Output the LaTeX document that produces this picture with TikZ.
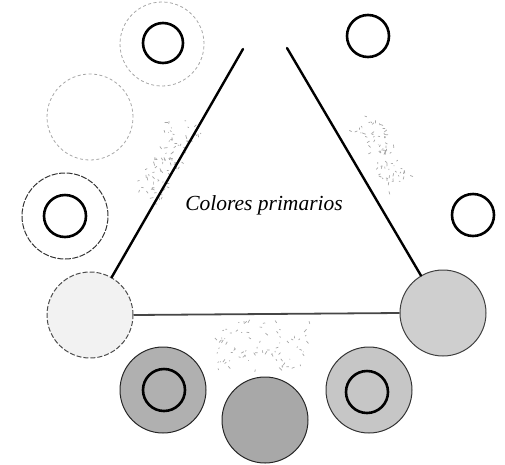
\documentclass[tikz,border=0pt]{standalone}
\usepackage{fontspec}
\setmainfont{Liberation Serif}

\begin{document}
\begin{tikzpicture}[
    x=1pt, y=-1pt,
    bigdisc/.style={circle, minimum size=86pt, inner sep=0pt},
    faintring/.style={draw=gray!70, line width=0.8pt, dash pattern=on 3pt off 2.5pt},
    boldring/.style={circle, draw=black, line width=2.6pt, minimum size=42pt, inner sep=0pt},
    side/.style={line width=2.4pt, line cap=round},
    base/.style={draw=gray!55!black, line width=1.8pt},
    speck/.style={gray!70, line width=0.7pt},
    mylabel/.style={font=\fontsize{21.5}{25}\selectfont\itshape}
]
    \useasboundingbox (0,0) rectangle (505,464);
    \pgfmathsetseed{7}

    % Mixing zones (loose specks)
    \begin{scope}[shift={(166,160)}, rotate=60]
        \foreach \k in {1,...,85}
            \draw[speck] ({44*rand},{17*rand}) -- ++({3*rand},{3*rand});
    \end{scope}
    \begin{scope}[shift={(381,152)}, rotate=-59]
        \foreach \k in {1,...,75}
            \draw[speck] ({38*rand},{15*rand}) -- ++({3*rand},{3*rand});
    \end{scope}
    \begin{scope}[shift={(262,346)}]
        \foreach \k in {1,...,80}
            \draw[speck] ({48*rand},{26*rand}) -- ++({3*rand},{3*rand});
    \end{scope}

    % Outer wheel
    \node[bigdisc, faintring, minimum size=84pt] (ylwout) at (162,44) {};
    \node[boldring, minimum size=40pt] (ylw) at (163,43) {};
    \node[bigdisc, faintring] (ylwgrn) at (90,117) {};
    \node[bigdisc, draw=black!80, line width=1pt, dash pattern=on 6pt off 1.5pt] (grnout) at (65,216) {};
    \node[boldring] (grn) at (65,216) {};
    \node[bigdisc, fill=gray!10, draw=gray!60!black, line width=1pt, dash pattern=on 5pt off 2pt] (blu) at (90,315) {};
    \node[bigdisc, fill=gray!62, draw=black!85, line width=1pt] (vioout) at (163,390) {};
    \node[boldring] (vio) at (164,390) {};
    \node[bigdisc, fill=gray!68, draw=black!85, line width=1pt] (bluvio) at (265,420) {};
    \node[bigdisc, fill=gray!45, draw=black!80, line width=1pt] (redout) at (369,390) {};
    \node[boldring] (red) at (367,392) {};
    \node[bigdisc, fill=gray!38, draw=black!75, line width=1pt] (rednar) at (443,313) {};
    \node[boldring] (nar) at (473,215) {};
    \node[boldring] (amanar) at (368,36) {};

    % Primary triangle
    \coordinate (apexl) at (243,49);
    \coordinate (apexr) at (287,48);
    \draw[side] (blu) -- (apexl);
    \draw[side] (apexr) -- (rednar);
    \draw[base] (blu.east) -- (rednar.west);

    \node[mylabel] (title) at (264,205) {Colores primarios};
\end{tikzpicture}
\end{document}
